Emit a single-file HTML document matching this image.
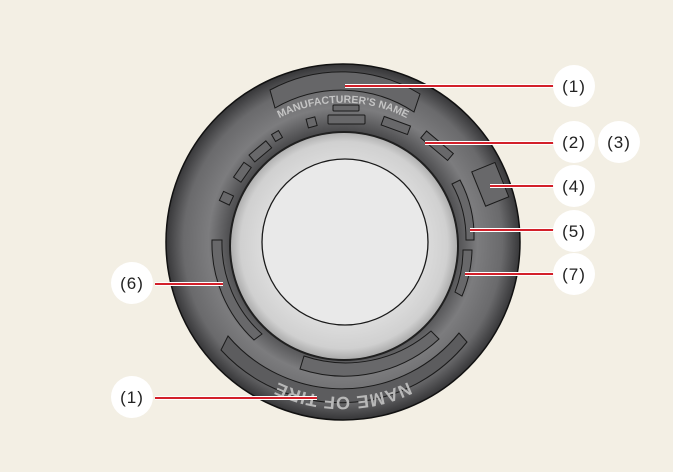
<!DOCTYPE html>
<html><head><meta charset="utf-8"><style>
html,body{margin:0;padding:0;background:#f3efe4;}
svg{display:block}
</style></head><body>
<svg width="673" height="472" viewBox="0 0 673 472" xmlns="http://www.w3.org/2000/svg">
<defs>
<radialGradient id="tg" cx="343" cy="242" r="177" gradientUnits="userSpaceOnUse">
<stop offset="0.62" stop-color="#474749"/>
<stop offset="0.76" stop-color="#7c7c7e"/>
<stop offset="0.9" stop-color="#6a6a6c"/>
<stop offset="1" stop-color="#38383a"/>
</radialGradient>
<radialGradient id="rg" cx="344" cy="245" r="115" gradientUnits="userSpaceOnUse">
<stop offset="0.7" stop-color="#dcdcdc"/>
<stop offset="0.9" stop-color="#d0d0d0"/>
<stop offset="1" stop-color="#a8a8a8"/>
</radialGradient>
<path id="topArc" d="M 236 153 A 139 139 0 0 1 450 153"/>
<path id="botArc" d="M 448 354 A 150 150 0 0 1 238 354"/>
</defs>
<rect width="673" height="472" fill="#f3efe4"/>
<ellipse cx="343" cy="242" rx="177" ry="178" fill="url(#tg)" stroke="#111" stroke-width="1.5"/>
<path d="M 270 90 A 150 150 0 0 1 420 94 L 414 112 A 132 132 0 0 0 275 108 Z" fill="#666668" stroke="#1a1a1a" stroke-width="1"/>
<text font-family="Liberation Sans, sans-serif" font-size="10.5" font-weight="bold" fill="#c4c4c4"><textPath href="#topArc" startOffset="50%" text-anchor="middle">MANUFACTURER'S NAME</textPath></text>
<g fill="#68686a" stroke="#1a1a1a" stroke-width="1">
<rect x="333" y="105" width="26" height="6" rx="1"/>
<rect x="328" y="115" width="37" height="9" rx="1"/>
<rect x="307" y="118" width="9" height="9" transform="rotate(-15 311 122)"/>
<rect x="382" y="121" width="28" height="9" transform="rotate(20 396 125)"/>
<rect x="420" y="141" width="35" height="9" transform="rotate(40 437 145)"/>
<rect x="273" y="132" width="8" height="8" transform="rotate(-30 277 136)"/>
<rect x="249" y="147" width="22" height="9" transform="rotate(-40 260 151)"/>
<rect x="233" y="168" width="18" height="9" transform="rotate(-55 242 172)"/>
<rect x="221" y="193" width="10" height="11" transform="rotate(-65 226 198)"/>
<rect x="478" y="166" width="25" height="37" transform="rotate(-22 490 185)"/>
<path d="M 452 184 L 460 180 A 120 120 0 0 1 474 240 L 466 240 A 112 112 0 0 0 452 184 Z"/>
<path d="M 463 250 L 472 250 A 125 125 0 0 1 462 296 L 455 292 A 115 115 0 0 0 463 250 Z"/>
<path d="M 212 240 L 222 240 A 122 122 0 0 0 262 334 L 254 340 A 132 132 0 0 1 212 240 Z"/>
<path d="M 228 336 A 150 150 0 0 0 459 333 L 467 342 A 162 162 0 0 1 221 350 Z" fill="#5c5c5e"/>
<path d="M 304 356 A 130 130 0 0 0 431 331 L 439 339 A 140 140 0 0 1 300 369 Z"/>
</g>
<text font-family="Liberation Sans, sans-serif" font-size="18" font-weight="bold" fill="#b8b8b8" letter-spacing="0.5"><textPath href="#botArc" startOffset="50%" text-anchor="middle">NAME OF TIRE</textPath></text>
<circle cx="344" cy="246" r="115" fill="#202020"/>
<circle cx="344" cy="246" r="113" fill="url(#rg)"/>
<circle cx="345" cy="242" r="83" fill="#e9e9e9" stroke="#1a1a1a" stroke-width="1.3"/>
<g stroke="#fff" stroke-width="4" fill="none">
<path d="M345 86H555M425 143H555M490 186H555M470 230H555M465 274H555M155 284H223M155 398H317"/>
</g>
<g stroke="#d3202a" stroke-width="2" fill="none">
<path d="M345 86H555M425 143H555M490 186H555M470 230H555M465 274H555M155 284H223M155 398H317"/>
</g>
<g fill="#fff">
<circle cx="574" cy="86" r="21"/><circle cx="574" cy="142" r="21"/><circle cx="619" cy="142" r="21"/>
<circle cx="574" cy="186" r="21"/><circle cx="574" cy="231" r="21"/><circle cx="574" cy="274" r="21"/>
<circle cx="132" cy="283" r="21"/><circle cx="132" cy="397" r="21"/>
</g>
<g font-family="Liberation Sans, sans-serif" font-size="17" fill="#222" text-anchor="middle" letter-spacing="1">
<text x="574" y="92">(1)</text><text x="574" y="148">(2)</text><text x="619" y="148">(3)</text>
<text x="574" y="192">(4)</text><text x="574" y="237">(5)</text><text x="574" y="280">(7)</text>
<text x="132" y="289">(6)</text><text x="132" y="403">(1)</text>
</g>
</svg>
</body></html>
